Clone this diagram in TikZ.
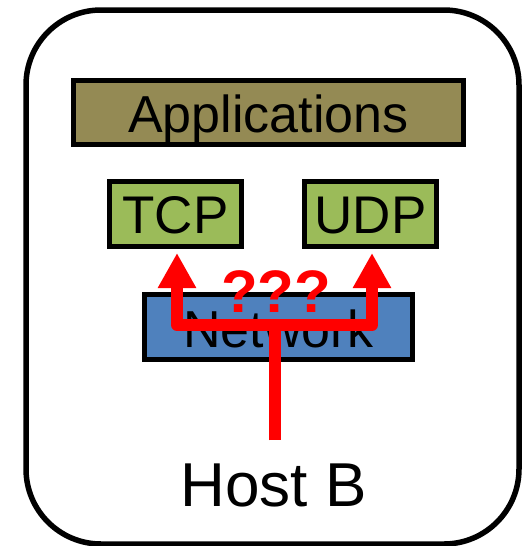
\documentclass[tikz,border=0pt]{standalone}
\usepackage{fontspec}
\setmainfont{Liberation Sans}
\usetikzlibrary{arrows.meta}
\definecolor{appolive}{HTML}{948A54}
\definecolor{protogreen}{HTML}{9BBB59}
\definecolor{netblue}{HTML}{4F81BD}
\definecolor{flowred}{HTML}{FF0000}
\tikzset{
  layer/.style={draw=black, line width=5pt, inner sep=0pt, text depth=0pt},
  flow/.style={draw=flowred, line width=12pt, line join=round,
    -{Triangle[length=35pt,width=36pt]}},
}
\begin{document}
\begin{tikzpicture}[x=1pt, y=-1pt]
  \useasboundingbox (0,0) rectangle (530,546);
  % host outline
  \draw[line width=5.5pt, rounded corners=75pt] (26,10) rectangle (519,544);
  % protocol stack
  \node[layer, fill=appolive, minimum width=390pt, minimum height=64pt,
        text height=39pt, font=\fontsize{52}{52}\selectfont]
        (apps) at (268.5,112.5) {Applications};
  \node[layer, fill=protogreen, minimum width=132pt, minimum height=65pt,
        text height=38pt, font=\fontsize{53}{53}\selectfont]
        (tcp) at (175.5,214) {TCP};
  \node[layer, fill=protogreen, minimum width=132pt, minimum height=65pt,
        text height=38pt, font=\fontsize{53}{53}\selectfont]
        (udp) at (370.5,214) {UDP};
  \node[layer, fill=netblue, minimum width=268pt, minimum height=65pt,
        text height=40pt, font=\fontsize{52}{52}\selectfont]
        (net) at (278.5,327) {Network};
  % host label
  \node[anchor=base, font=\fontsize{62}{62}\selectfont, inner sep=0pt]
        (host) at (273.5,506) {Host B};
  % demultiplexing paths
  \coordinate (src) at (275,440);
  \coordinate (fork) at (275,325);
  \draw[flow] (src) -- (fork) -| ([xshift=1.5pt,yshift=-4pt]tcp.south);
  \draw[flow] (src) -- (fork) -| ([xshift=1.5pt,yshift=-4pt]udp.south);
  \node[anchor=base, text=flowred, font=\fontsize{60}{60}\selectfont\bfseries,
        inner sep=0pt] (q) at (276,312) {???};
\end{tikzpicture}
\end{document}
